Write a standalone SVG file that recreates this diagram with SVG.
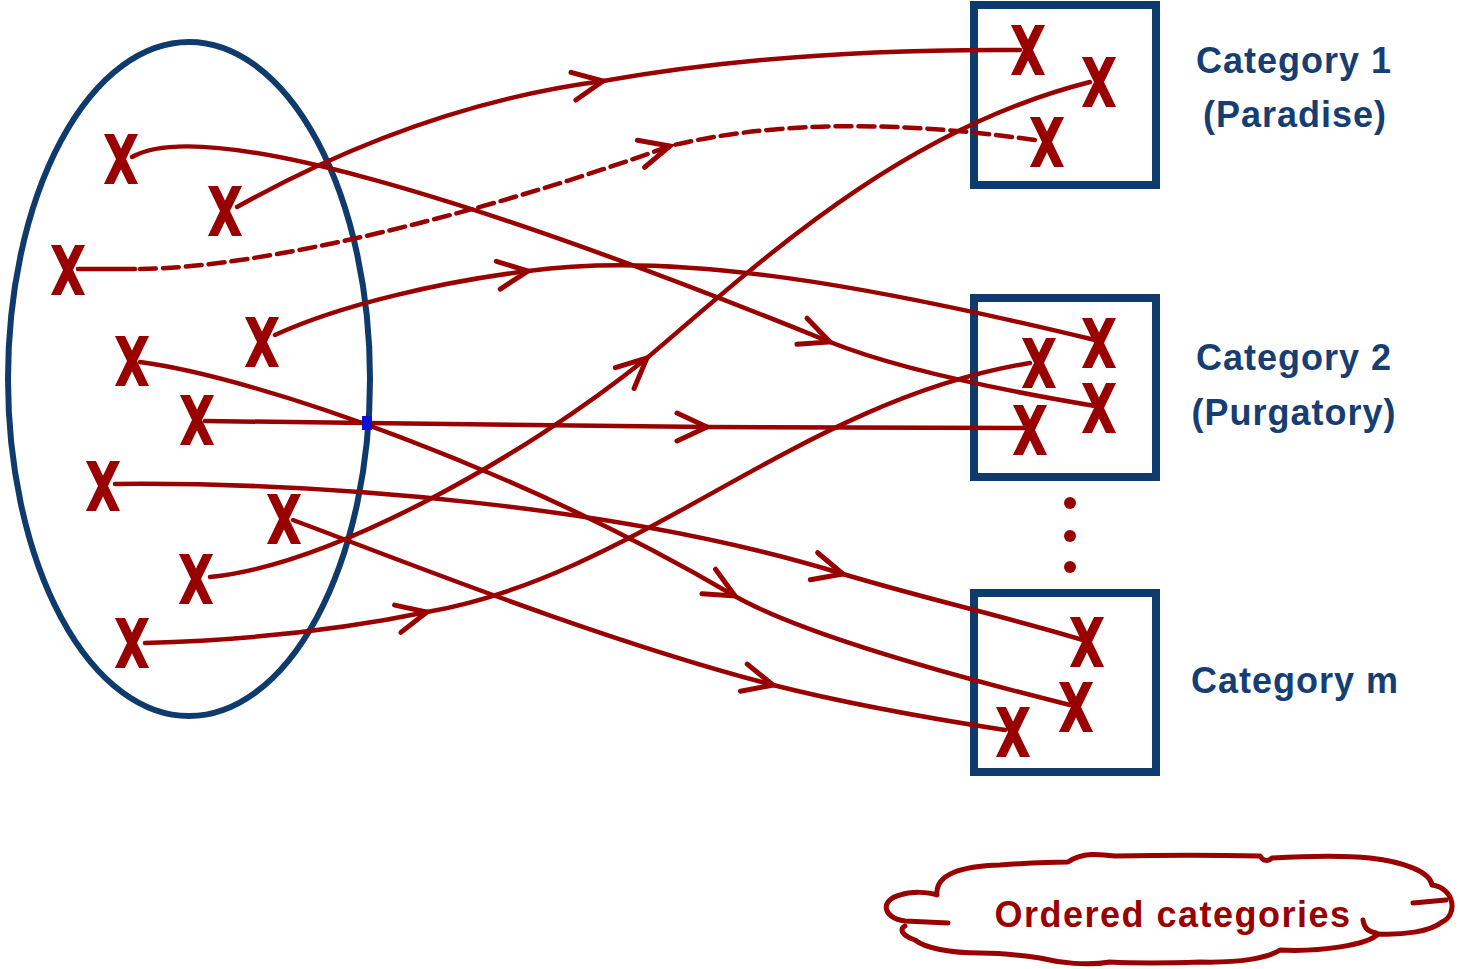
<svg xmlns="http://www.w3.org/2000/svg" xmlns:xlink="http://www.w3.org/1999/xlink" width="1460" height="969" viewBox="0 0 1460 969">
<style>
.ln{fill:none;stroke:#990000;stroke-width:4.5;stroke-linecap:round;stroke-linejoin:round}
.dsh{stroke-dasharray:16 7}
.ah{fill:none;stroke:#990000;stroke-width:5;stroke-linecap:round;stroke-linejoin:miter}
.xm{stroke:#990000;stroke-width:9;fill:none}
.bx{fill:none;stroke:#0e3a6c;stroke-width:8}
.lbl{font-family:"Liberation Sans",Arial,sans-serif;font-weight:bold;font-size:36px;fill:#163e72;letter-spacing:1px;text-anchor:middle}
.cl{fill:none;stroke:#990000;stroke-width:5;stroke-linejoin:round;stroke-linecap:round}
</style>
<defs>
<clipPath id="xc"><rect x="-20" y="-25" width="40" height="50"/></clipPath>
<g id="xg"><path class="xm" d="M-13,-27 L13,27 M13,-27 L-13,27" clip-path="url(#xc)"/></g>
<path id="ah" d="M-30,-14 L0,0 L-30,14"/>
</defs>
<rect width="1460" height="969" fill="#ffffff"/>

<g id="source-set">
<ellipse cx="189" cy="379" rx="181" ry="337" fill="none" stroke="#0e3a6c" stroke-width="6"/>
</g>

<g id="category-1">
<rect class="bx" x="974" y="5" width="182" height="180"/>
<text class="lbl" x="1294" y="73">Category 1</text>
<text class="lbl" x="1295" y="127">(Paradise)</text>
</g>
<g id="category-2">
<rect class="bx" x="974" y="298" width="182" height="179"/>
<text class="lbl" x="1294" y="370">Category 2</text>
<text class="lbl" x="1294" y="425">(Purgatory)</text>
</g>
<g id="ellipsis-dots" fill="#990000">
<circle cx="1070" cy="503" r="6"/>
<circle cx="1070" cy="536" r="6"/>
<circle cx="1070" cy="567" r="6"/>
</g>
<g id="category-m">
<rect class="bx" x="974" y="593" width="182" height="179"/>
<text class="lbl" x="1295" y="693">Category m</text>
</g>

<g id="connectors">
<path class="ln" d="M237,207 Q420,105 603,81 Q790,48 1020,50"/>
<path class="ln" d="M78,269 L135,269"/>
<path class="ln dsh" d="M140,269 C260,268 480,215 670,146 C760,124 880,118 1035,140"/>
<path class="ln" d="M132,157 C200,118 450,188 830,342 C900,370 1000,390 1095,406"/>
<path class="ln" d="M275,335 C340,305 440,282 528,271 C680,250 880,288 1095,340"/>
<path class="ln" d="M140,362 C260,378 520,470 733,595 C800,634 950,675 1070,705"/>
<path class="ln" d="M205,421 L367,423 L707,427 L1025,428"/>
<path class="ln" d="M115,484 C320,482 620,505 843,574 C930,600 1000,615 1083,640"/>
<path class="ln" d="M293,520 C400,560 600,640 773,685 C860,707 940,720 1005,730"/>
<path class="ln" d="M210,577 C330,565 520,460 647,358 C760,262 900,130 1090,82"/>
<path class="ln" d="M145,643 C250,640 340,630 427,612 C640,575 800,400 1030,363"/>
<use xlink:href="#ah" href="#ah" class="ah" transform="translate(603,81) rotate(-10)"/>
<use xlink:href="#ah" href="#ah" class="ah" transform="translate(670,146) rotate(-15)"/>
<use xlink:href="#ah" href="#ah" class="ah" transform="translate(830,342) rotate(21)"/>
<use xlink:href="#ah" href="#ah" class="ah" transform="translate(528,271) rotate(-8)"/>
<use xlink:href="#ah" href="#ah" class="ah" transform="translate(735,596) rotate(29)"/>
<use xlink:href="#ah" href="#ah" class="ah" transform="translate(707,427)"/>
<use xlink:href="#ah" href="#ah" class="ah" transform="translate(843,574) rotate(15)"/>
<use xlink:href="#ah" href="#ah" class="ah" transform="translate(773,685) rotate(14)"/>
<use xlink:href="#ah" href="#ah" class="ah" transform="translate(647,358) rotate(-42)"/>
<use xlink:href="#ah" href="#ah" class="ah" transform="translate(427,612) rotate(-13)"/>
<rect x="362" y="416" width="10" height="14" fill="#1010d0"/>
</g>

<g id="x-src-1"><use xlink:href="#xg" href="#xg" x="121" y="159"/></g>
<g id="x-src-2"><use xlink:href="#xg" href="#xg" x="225" y="211"/></g>
<g id="x-src-3"><use xlink:href="#xg" href="#xg" x="68" y="270"/></g>
<g id="x-src-4"><use xlink:href="#xg" href="#xg" x="262" y="342"/></g>
<g id="x-src-5"><use xlink:href="#xg" href="#xg" x="132" y="361"/></g>
<g id="x-src-6"><use xlink:href="#xg" href="#xg" x="197" y="420"/></g>
<g id="x-src-7"><use xlink:href="#xg" href="#xg" x="103" y="486"/></g>
<g id="x-src-8"><use xlink:href="#xg" href="#xg" x="284" y="519"/></g>
<g id="x-src-9"><use xlink:href="#xg" href="#xg" x="196" y="579"/></g>
<g id="x-src-10"><use xlink:href="#xg" href="#xg" x="132" y="643"/></g>

<g id="x-c1-a"><use xlink:href="#xg" href="#xg" x="1028" y="50"/></g>
<g id="x-c1-b"><use xlink:href="#xg" href="#xg" x="1099" y="82"/></g>
<g id="x-c1-c"><use xlink:href="#xg" href="#xg" x="1047" y="142"/></g>
<g id="x-c2-a"><use xlink:href="#xg" href="#xg" x="1099" y="343"/></g>
<g id="x-c2-b"><use xlink:href="#xg" href="#xg" x="1039" y="363"/></g>
<g id="x-c2-c"><use xlink:href="#xg" href="#xg" x="1099" y="408"/></g>
<g id="x-c2-d"><use xlink:href="#xg" href="#xg" x="1030" y="430"/></g>
<g id="x-cm-a"><use xlink:href="#xg" href="#xg" x="1087" y="642"/></g>
<g id="x-cm-b"><use xlink:href="#xg" href="#xg" x="1076" y="707"/></g>
<g id="x-cm-c"><use xlink:href="#xg" href="#xg" x="1013" y="732"/></g>

<g id="ordered-categories">
<path class="cl" d="M948,923 L905,921 C882,918 880,900 900,895 C912,891 928,892 937,895 C935,874 962,866 1000,865 C1030,863 1055,862 1068,862 C1082,852 1100,854 1115,856 C1160,855 1220,855 1260,856 C1263,861 1268,862 1272,858 C1310,856 1350,856 1370,858 C1405,862 1430,872 1432,885 C1455,888 1458,915 1442,922 C1430,932 1402,935 1378,934 C1368,945 1320,952 1280,950 C1268,958 1240,963 1200,962 C1170,963 1130,963 1110,962 C1088,966 1060,963 1040,958 C1020,955 1000,953 980,953 C950,953 925,948 915,940 C900,935 900,928 905,926"/>
<path class="cl" d="M1413,903 L1446,900"/>
<path class="cl" d="M1363,920 C1364,928 1369,932 1376,933"/>
<text x="1173" y="927" font-family="'Liberation Sans',Arial,sans-serif" font-weight="bold" font-size="36" letter-spacing="1.5" text-anchor="middle" fill="#990000">Ordered categories</text>
</g>
</svg>
